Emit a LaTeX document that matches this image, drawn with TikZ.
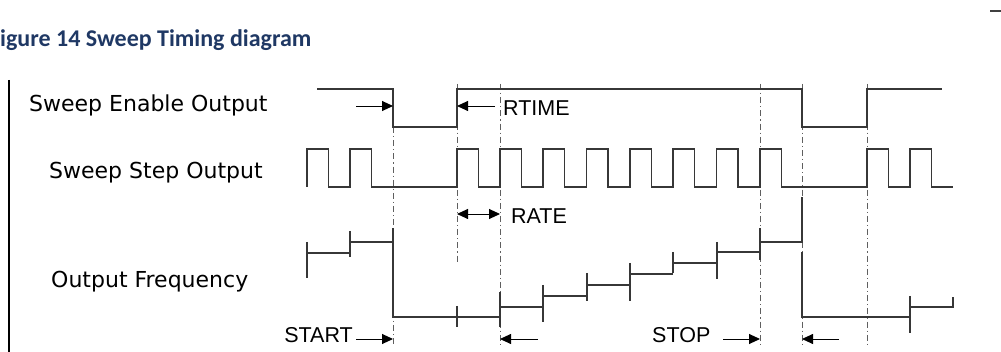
\documentclass[tikz,border=0pt]{standalone}
\usepackage{fontspec}
\setmainfont{DejaVu Sans}
\newfontfamily\titlefont{Carlito}
\newfontfamily\arialfont{Liberation Sans}
\usetikzlibrary{arrows.meta}
\definecolor{titleblue}{RGB}{31,56,100}
\definecolor{wavegray}{RGB}{55,55,55}
\definecolor{guidegray}{RGB}{95,95,95}
\begin{document}
\begin{tikzpicture}[x=1pt,y=-1pt,
  wave/.style={draw=wavegray,line width=1.3pt,line cap=butt,line join=miter},
  guide/.style={draw=guidegray,line width=1pt,dash pattern=on 6pt off 3pt on 1.2pt off 3pt},
  dimarrow/.style={draw=black,line width=0.9pt,-{Triangle[length=11pt,width=10pt]}},
  dimboth/.style={draw=black,line width=0.9pt,{Triangle[length=11pt,width=10pt]}-{Triangle[length=11pt,width=10pt]}},
  siglabel/.style={anchor=base west,inner sep=0pt,font=\fontsize{22}{26}\selectfont},
  dimlabel/.style={inner sep=0pt,font=\arialfont\fontsize{21.5}{25}\selectfont}]
\useasboundingbox (0,0) rectangle (1001,352);

% title and page marks
\node[anchor=base west,inner sep=0pt,text=titleblue,font=\titlefont\bfseries\fontsize{24}{28}\selectfont] (title) at (0,47) {igure 14 Sweep Timing diagram};
\draw[draw=black!75,line width=1.5pt] (990,11) -- (1001,11);
\draw[line width=2pt] (9,80) -- (9,352);

% signal labels
\node[siglabel] (lblEnable) at (29,112) {Sweep Enable Output};
\node[siglabel] (lblStep) at (49,179) {Sweep Step Output};
\node[siglabel] (lblFreq) at (51,288) {Output Frequency};

% guide lines
\foreach \x/\a/\b in {393/127/345, 457/84/262, 500/84/345, 760/84/345, 802/84/345, 867/84/345}
  \draw[guide] (\x,\a) -- (\x,\b);

% Sweep Enable Output
\draw[wave] (317,89) -- (393,89) -- (393,127) -- (457,127) -- (457,89) -- (802,89)
  -- (802,127) -- (867,127) -- (867,89) -- (942,89);

% Sweep Step Output
\draw[wave] (307,187) \foreach \x in {307,350,457,500,543,586.5,630,673,716.5,760,867,910} {
  -- (\x,187) -- (\x,149) -- ++(21.5,0) -- ++(0,38) } -- (953,187);

% Output Frequency
\draw[wave] (307,242) -- (307,278);
\draw[wave] (307,253) -- (350,253);
\draw[wave] (350,231) -- (350,257);
\draw[wave] (350,242) -- (393,242);
\draw[wave] (393,228) -- (393,317) -- (500,317);
\draw[wave] (457,306) -- (457,327);
\draw[wave] (500,292) -- (500,327);
\draw[wave] (500,307) -- (543,307);
\draw[wave] (543,285) -- (543,322);
\draw[wave] (543,296) -- (587,296);
\draw[wave] (587,273) -- (587,301);
\draw[wave] (587,285) -- (630,285);
\draw[wave] (630,263) -- (630,301);
\draw[wave] (630,274) -- (673,274);
\draw[wave] (673,252) -- (673,273);
\draw[wave] (673,263) -- (717,263);
\draw[wave] (717,242) -- (717,279);
\draw[wave] (717,252) -- (760,252);
\draw[wave] (760,228) -- (760,260);
\draw[wave] (760,242) -- (802,242) -- (802,197);
\draw[wave] (802,252) -- (802,317) -- (910,317);
\draw[wave] (910,296) -- (910,333);
\draw[wave] (910,307) -- (953,307) -- (953,297);

% dimension labels
\node[dimlabel,anchor=base west] (rtime) at (503,116) {RTIME};
\node[dimlabel,anchor=base west] (rate) at (511,224) {RATE};
\node[dimlabel,anchor=base east] (start) at (353,343) {START};
\node[dimlabel,anchor=base west] (stop) at (652,343) {STOP};

% arrow end points
\coordinate (enA0) at (356,106);
\coordinate (enA1) at (393,106);
\coordinate (enB0) at (495,106);
\coordinate (enB1) at (457,106);
\coordinate (rateL) at (457,214);
\coordinate (rateR) at (500,214);
\coordinate (stA1) at (393,339);
\coordinate (stB0) at (538,339);
\coordinate (stB1) at (500,339);
\coordinate (spA0) at (723,339);
\coordinate (spA1) at (760,339);
\coordinate (spB0) at (839,339);
\coordinate (spB1) at (802,339);

\draw[dimarrow] (enA0) -- (enA1);
\draw[dimarrow] (enB0) -- (enB1);
\draw[dimboth] (rateL) -- (rateR);
\draw[dimarrow] (start.east |- stA1) ++(3,0) -- (stA1);
\draw[dimarrow] (stB0) -- (stB1);
\draw[dimarrow] (spA0) -- (spA1);
\draw[dimarrow] (spB0) -- (spB1);
\end{tikzpicture}
\end{document}
